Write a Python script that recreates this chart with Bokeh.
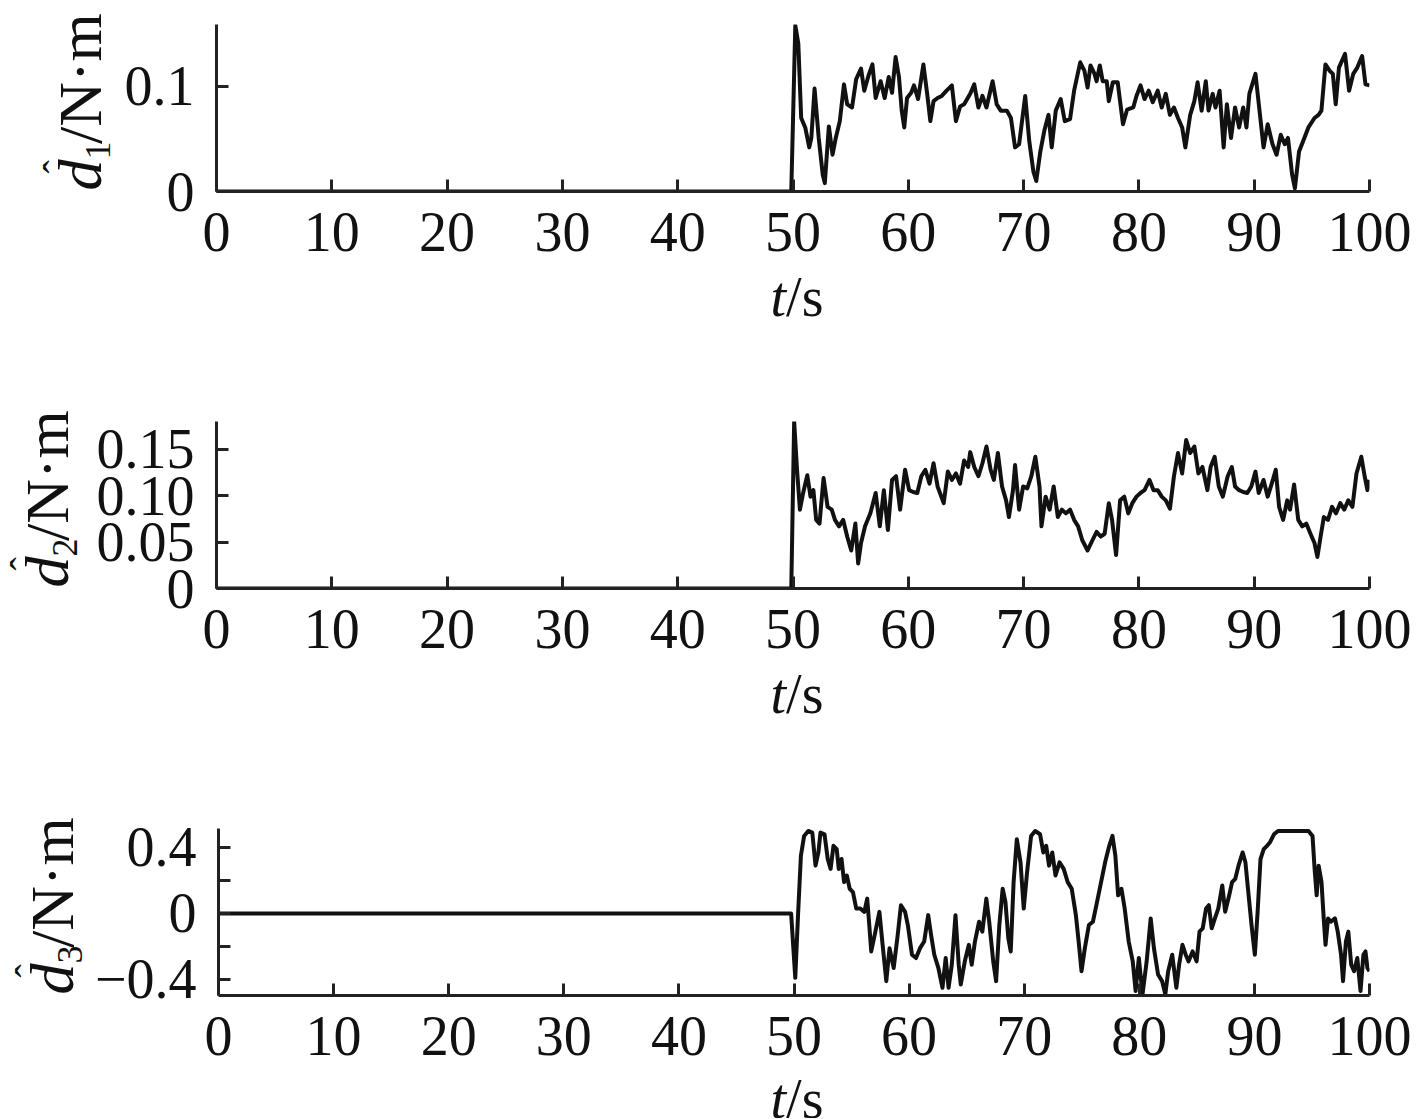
import math
from bokeh.plotting import figure
from bokeh.models import Range1d, FixedTicker, Label
from bokeh.layouts import column, row
from bokeh.embed import file_html
from bokeh.resources import INLINE

# ---------------- data ----------------
t1 = [0.0, 49.85, 50.2, 50.46, 50.71, 51.06, 51.41, 51.59, 51.87, 52.23, 52.58, 52.76, 53.11, 53.43,
      53.71, 54.06, 54.42, 54.70, 55.12, 55.48, 55.90, 56.18, 56.54, 56.89, 57.17, 57.60, 57.95,
      58.30, 58.59, 58.90, 59.19, 59.43, 59.65, 59.89, 60.25, 60.49, 60.85, 61.31, 61.66, 61.91,
      62.19, 62.54, 62.90, 63.32, 63.78, 64.13, 64.49, 64.84, 65.37, 65.72, 66.08, 66.43, 66.78,
      67.31, 67.67, 68.02, 68.55, 68.90, 69.26, 69.61, 70.14, 70.49, 70.85, 71.10, 71.45, 71.80,
      72.16, 72.44, 72.79, 73.22, 73.57, 74.03, 74.38, 74.91, 75.27, 75.55, 75.80, 76.15, 76.33,
      76.61, 76.86, 77.21, 77.39, 77.74, 78.16, 78.62, 78.98, 79.51, 79.79, 80.14, 80.49, 80.85,
      81.20, 81.63, 81.98, 82.33, 82.69, 83.04, 83.39, 83.75, 84.03, 84.45, 84.81, 85.09, 85.44,
      85.80, 86.04, 86.40, 86.64, 87.00, 87.35, 87.63, 87.99, 88.34, 88.69, 89.05, 89.33, 89.58,
      90.11, 90.46, 90.81, 91.17, 91.59, 91.94, 92.30, 92.65, 92.93, 93.29, 93.53, 93.89, 94.35,
      94.70, 95.23, 95.58, 95.83, 96.18, 96.54, 96.82, 97.07, 97.35, 97.88, 98.23, 98.59, 98.94,
      99.36, 99.65, 100.0]
d1 = [0.0, 0.0, 0.158, 0.141, 0.070, 0.061, 0.042, 0.051, 0.098, 0.051, 0.016, 0.008, 0.062, 0.035,
      0.051, 0.067, 0.102, 0.083, 0.080, 0.107, 0.117, 0.096, 0.110, 0.121, 0.089, 0.105, 0.089,
      0.109, 0.094, 0.128, 0.109, 0.077, 0.061, 0.089, 0.094, 0.101, 0.088, 0.121, 0.091, 0.067,
      0.086, 0.089, 0.091, 0.096, 0.101, 0.067, 0.081, 0.083, 0.093, 0.102, 0.080, 0.091, 0.080,
      0.105, 0.083, 0.077, 0.077, 0.070, 0.042, 0.045, 0.091, 0.048, 0.019, 0.010, 0.038, 0.058,
      0.073, 0.042, 0.077, 0.088, 0.067, 0.069, 0.096, 0.123, 0.115, 0.099, 0.120, 0.112, 0.105,
      0.120, 0.105, 0.105, 0.086, 0.104, 0.104, 0.064, 0.078, 0.080, 0.091, 0.101, 0.088, 0.096,
      0.085, 0.096, 0.080, 0.093, 0.073, 0.080, 0.070, 0.061, 0.042, 0.073, 0.086, 0.104, 0.077,
      0.105, 0.077, 0.093, 0.080, 0.096, 0.042, 0.083, 0.051, 0.080, 0.061, 0.080, 0.061, 0.093,
      0.112, 0.077, 0.042, 0.064, 0.045, 0.035, 0.054, 0.045, 0.051, 0.016, 0.003, 0.038, 0.051,
      0.061, 0.070, 0.073, 0.077, 0.121, 0.115, 0.112, 0.083, 0.118, 0.131, 0.096, 0.112, 0.118,
      0.129, 0.102, 0.101]

t2 = [0.0, 49.85, 50.1, 50.35, 50.60, 50.88, 51.24, 51.52, 51.77, 52.01, 52.30, 52.65, 53.00, 53.36,
      53.64, 53.99, 54.35, 54.70, 55.05, 55.41, 55.65, 55.90, 56.25, 56.71, 57.17, 57.53, 57.88,
      58.23, 58.59, 58.94, 59.29, 59.72, 60.07, 60.42, 60.78, 61.13, 61.48, 61.84, 62.19, 62.54,
      63.07, 63.43, 63.78, 64.13, 64.49, 64.84, 65.19, 65.37, 65.72, 66.08, 66.43, 66.78, 67.14,
      67.42, 67.77, 68.13, 68.48, 68.73, 69.08, 69.26, 69.61, 69.96, 70.32, 70.67, 71.02, 71.38,
      71.55, 71.91, 72.26, 72.61, 72.97, 73.32, 73.67, 74.03, 74.38, 74.73, 75.09, 75.55, 75.97,
      76.33, 76.68, 77.03, 77.39, 77.67, 78.02, 78.37, 78.73, 79.08, 79.43, 79.79, 80.14, 80.49,
      80.92, 81.27, 81.63, 81.98, 82.33, 82.69, 83.04, 83.39, 83.75, 84.10, 84.45, 84.81, 85.16,
      85.51, 85.94, 86.22, 86.57, 86.93, 87.28, 87.70, 88.06, 88.34, 88.69, 89.05, 89.40, 89.75,
      90.11, 90.39, 90.81, 91.17, 91.52, 91.87, 92.16, 92.51, 92.86, 93.11, 93.46, 93.82, 94.17,
      94.52, 94.88, 95.23, 95.48, 95.76, 96.04, 96.40, 96.75, 97.10, 97.46, 97.81, 98.16, 98.52,
      98.87, 99.29, 99.58, 99.82, 100.0]
d2 = [0.0, 0.0, 0.180, 0.128, 0.085, 0.103, 0.122, 0.099, 0.106, 0.074, 0.070, 0.119, 0.088, 0.085,
      0.074, 0.067, 0.074, 0.056, 0.041, 0.070, 0.027, 0.049, 0.067, 0.081, 0.103, 0.067, 0.106,
      0.063, 0.117, 0.121, 0.085, 0.128, 0.106, 0.104, 0.103, 0.121, 0.128, 0.113, 0.135, 0.110,
      0.092, 0.126, 0.117, 0.124, 0.113, 0.138, 0.131, 0.147, 0.131, 0.121, 0.135, 0.153, 0.128,
      0.117, 0.146, 0.110, 0.095, 0.077, 0.106, 0.133, 0.085, 0.110, 0.108, 0.121, 0.142, 0.110,
      0.067, 0.099, 0.085, 0.110, 0.077, 0.085, 0.081, 0.085, 0.074, 0.067, 0.052, 0.041, 0.052,
      0.061, 0.056, 0.059, 0.092, 0.074, 0.036, 0.095, 0.099, 0.081, 0.092, 0.099, 0.103, 0.106,
      0.117, 0.106, 0.106, 0.099, 0.095, 0.086, 0.121, 0.146, 0.124, 0.160, 0.146, 0.153, 0.124,
      0.131, 0.106, 0.131, 0.142, 0.110, 0.099, 0.121, 0.131, 0.110, 0.106, 0.104, 0.103, 0.110,
      0.126, 0.103, 0.117, 0.099, 0.113, 0.128, 0.088, 0.074, 0.095, 0.085, 0.112, 0.074, 0.067,
      0.070, 0.059, 0.049, 0.034, 0.056, 0.077, 0.074, 0.088, 0.081, 0.092, 0.085, 0.095, 0.088,
      0.124, 0.142, 0.121, 0.106, 0.117]

t3 = [0.0, 49.75, 50.11, 50.35, 50.60, 50.88, 51.24, 51.59, 51.87, 52.12, 52.30, 52.65, 52.93, 53.18,
      53.43, 53.71, 53.89, 54.13, 54.35, 54.59, 54.84, 55.12, 55.41, 55.76, 56.11, 56.36, 56.54,
      56.71, 57.07, 57.42, 57.67, 58.02, 58.30, 58.66, 59.01, 59.29, 59.65, 59.89, 60.25, 60.60,
      60.95, 61.31, 61.66, 61.91, 62.19, 62.54, 62.90, 63.18, 63.43, 63.71, 64.03, 64.31, 64.49,
      64.84, 65.19, 65.44, 65.72, 66.08, 66.36, 66.71, 66.96, 67.31, 67.56, 67.84, 68.13, 68.37,
      68.62, 68.83, 69.08, 69.36, 69.68, 69.96, 70.25, 70.60, 70.95, 71.38, 71.66, 71.91, 72.16,
      72.44, 72.72, 73.07, 73.43, 73.78, 74.13, 74.49, 74.73, 74.98, 75.27, 75.62, 75.97, 76.33,
      76.68, 77.03, 77.39, 77.67, 77.92, 78.16, 78.45, 78.73, 79.08, 79.43, 79.68, 79.96, 80.28,
      80.64, 80.99, 81.27, 81.63, 81.98, 82.26, 82.51, 82.86, 83.22, 83.46, 83.75, 84.03, 84.28,
      84.63, 84.98, 85.23, 85.51, 85.80, 86.04, 86.29, 86.57, 86.86, 87.21, 87.46, 87.81, 88.06,
      88.34, 88.62, 88.98, 89.22, 89.47, 89.75, 90.04, 90.28, 90.53, 90.81, 91.10, 91.34, 91.70,
      92.05, 92.58, 93.29, 93.99, 94.70, 95.05, 95.23, 95.41, 95.58, 95.83, 96.04, 96.18, 96.40,
      96.64, 97.00, 97.24, 97.53, 97.70, 97.95, 98.16, 98.41, 98.66, 98.94, 99.22, 99.47, 99.65,
      99.82, 100.0]
d3 = [0.0, 0.0, -0.39, -0.01, 0.35, 0.47, 0.50, 0.49, 0.29, 0.37, 0.49, 0.48, 0.33, 0.27,
      0.41, 0.39, 0.27, 0.33, 0.19, 0.23, 0.15, 0.13, 0.03, 0.03, 0.01, 0.09, -0.07,
      -0.23, -0.11, 0.01, -0.17, -0.41, -0.21, -0.33, -0.13, 0.05, 0.01, -0.07, -0.25, -0.27,
      -0.21, -0.17, -0.01, -0.13, -0.25, -0.33, -0.45, -0.27, -0.45, -0.31, -0.01, -0.31, -0.43,
      -0.29, -0.19, -0.31, -0.17, -0.05, -0.11, 0.09, -0.05, -0.29, -0.41, -0.07, 0.15, 0.07,
      -0.15, -0.23, 0.19, 0.45, 0.31, 0.03, 0.25, 0.47, 0.50, 0.48, 0.37, 0.41, 0.29,
      0.37, 0.23, 0.31, 0.27, 0.19, 0.15, -0.01, -0.17, -0.35, -0.21, -0.07, -0.05, 0.07,
      0.19, 0.31, 0.41, 0.47, 0.35, 0.11, 0.15, 0.03, -0.17, -0.29, -0.47, -0.27, -0.49,
      -0.29, -0.03, -0.21, -0.37, -0.41, -0.49, -0.35, -0.25, -0.45, -0.31, -0.19, -0.25, -0.29,
      -0.23, -0.29, -0.11, -0.09, 0.03, 0.05, -0.09, -0.03, 0.03, 0.17, 0.01, 0.11, 0.19,
      0.21, 0.29, 0.37, 0.31, 0.13, -0.07, -0.25, 0.01, 0.33, 0.39, 0.41, 0.43, 0.48,
      0.50, 0.50, 0.50, 0.50, 0.50, 0.47, 0.27, 0.11, 0.29, 0.19, -0.05, -0.19, -0.03,
      -0.05, -0.03, -0.11, -0.25, -0.41, -0.17, -0.11, -0.31, -0.35, -0.27, -0.47, -0.25, -0.23,
      -0.33, -0.35]

x_ticks = [0, 10, 20, 30, 40, 50, 60, 70, 80, 90, 100]

y1_ticks = [0, 0.1]
y1_labels = ["0", "0.1"]
y2_ticks = [0, 0.05, 0.1, 0.15]
y2_labels = ["0", "0.05", "0.10", "0.15"]
y3_ticks = [-0.4, 0, 0.4]
y3_minor = [-0.2, 0.2]
y3_labels = ["\u22120.4", "0", "0.4"]

y_subscripts = ["1", "2", "3"]
x_title_var = "t"
x_title_unit = "/s"
y_title_var = "d"
y_title_unit = "/N\u00b7m"
hat = "\u02c6"

# ---------------- styling / layout ----------------
FONT = "Liberation Serif"
INK = "#111111"
AXIS = "#222222"
TOTAL_W = 1416
FRAME_W = 1153
FRAME_H = 167
FRAME_LEFT = 216
RIGHT = 47
AXIS_BAND = 84
MID = 0.3375   # em distance from the baseline up to the middle of the text box


def text_strip(w, h, x0, y0):
    """A blank figure (no axes) whose data units equal page pixels; used only to hold titles."""
    f = figure(width=w, height=h, x_range=Range1d(x0, x0 + w), y_range=Range1d(y0 + h, y0),
               x_axis_type=None, y_axis_type=None, output_backend="svg", toolbar_location=None,
               min_border_left=0, min_border_right=0, min_border_top=0, min_border_bottom=0)
    f.outline_line_color = None
    f.background_fill_color = "white"
    f.border_fill_color = "white"
    return f


def put(f, start, base, text, size, adv, style="normal", rotated=False):
    """Place text whose baseline starts at `start` (along the text) on line `base`.
    `adv` is the advance width in em; the label is anchored at its centre."""
    half = 0.5 * adv * size
    if rotated:      # reads bottom-to-top, glyph tops point left
        x, y = base - MID * size, start - half
    else:
        x, y = start + half, base - MID * size
    f.add_layout(Label(x=x, y=y, text=text, text_font=FONT, text_font_size=f"{size}px",
                       text_font_style=style, text_color=INK,
                       angle=(math.pi / 2 if rotated else 0.0),
                       text_align="center", text_baseline="middle"))


def block(t, d, yr, ticks, labels, minor, block_top, block_h, top, strip_w, sub, ybase_x, xbase_y):
    main_w = TOTAL_W - strip_w
    main_h = top + FRAME_H + AXIS_BAND
    p = figure(width=main_w, height=main_h,
               x_range=Range1d(0, 100), y_range=Range1d(*yr),
               output_backend="svg", toolbar_location=None,
               min_border_left=FRAME_LEFT - strip_w, min_border_right=RIGHT,
               min_border_top=top, min_border_bottom=AXIS_BAND)
    p.grid.visible = False
    p.outline_line_color = None
    p.background_fill_color = "white"
    p.border_fill_color = "white"

    p.xaxis.ticker = FixedTicker(ticks=x_ticks)
    p.yaxis.ticker = FixedTicker(ticks=ticks, minor_ticks=minor)
    p.yaxis.major_label_overrides = {k: v for k, v in zip(ticks, labels)}
    for ax in (p.xaxis[0], p.yaxis[0]):
        ax.axis_line_width = 3
        ax.axis_line_color = AXIS
        ax.major_tick_in = 12
        ax.major_tick_out = 0
        ax.major_tick_line_width = 3
        ax.major_tick_line_color = AXIS
        ax.minor_tick_in = 12
        ax.minor_tick_out = 0
        ax.minor_tick_line_width = 3
        ax.minor_tick_line_color = AXIS
        ax.major_label_text_font = FONT
        ax.major_label_text_font_size = "56px"
        ax.major_label_text_color = INK
    p.xaxis.minor_tick_line_color = None
    p.xaxis.major_label_standoff = 21
    p.yaxis.major_label_standoff = 22

    p.line(t, d, line_width=4, line_color=INK, line_join="round")

    # y title strip at the left (rotated, reading upward)
    yt = text_strip(strip_w, main_h, 0, block_top)
    F = 62
    FS = 36
    B = block_top + top + FRAME_H - 1
    bx = ybase_x
    put(yt, B, bx, y_title_var, F, 0.5, "italic", True)
    put(yt, B - 0.5 * F, bx + 10, sub, FS, 0.5, "normal", True)
    put(yt, B - 0.5 * F - 0.5 * FS, bx, y_title_unit, F, 2.028, "normal", True)
    put(yt, B - 17, bx - 30, hat, 40, 0.333, "normal", True)

    # x title strip (full width) under the panel
    xt_top = block_top + main_h
    xt = text_strip(TOTAL_W, block_h - main_h, 0, xt_top)
    XF = 56
    start = 770
    put(xt, start, xbase_y, x_title_var, XF, 0.278, "italic", False)
    put(xt, start + 0.278 * XF, xbase_y, x_title_unit, XF, 0.667, "normal", False)

    # wrapping the main plot in its own column keeps the title strip's frame
    # from being aligned to the plot frame
    return column(row(yt, column(p, spacing=0), spacing=0), xt, spacing=0)


b1 = block(t1, d1, (0.0, 0.159), y1_ticks, y1_labels, [], 0, 391, 24, 118, y_subscripts[0], 100, 315)
b2 = block(t2, d2, (0.0, 0.18), y2_ticks, y2_labels, [], 391, 407, 30, 90, y_subscripts[1], 67, 712)
b3 = block(t3, d3, (-0.497, 0.515), y3_ticks, y3_labels, y3_minor, 798, 320, 30, 91, y_subscripts[2], 72, 1117)

layout = column(b1, b2, b3, spacing=0)

open("out.html", "w").write(file_html(layout, INLINE))
